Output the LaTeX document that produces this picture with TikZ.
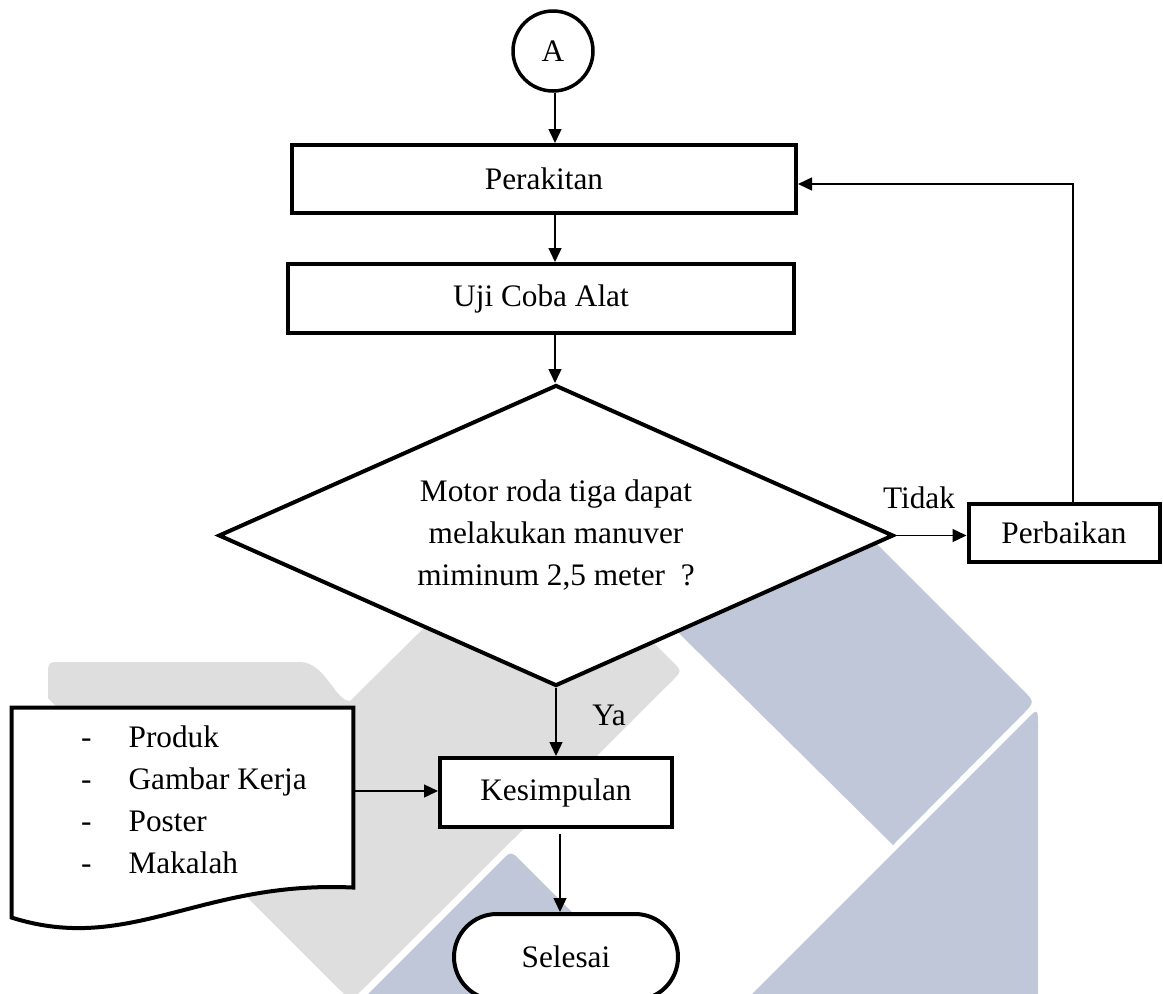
\documentclass[tikz,border=0pt]{standalone}
\usepackage{fontspec}
\setmainfont{Liberation Serif}
\usetikzlibrary{shapes.geometric,arrows.meta,calc}
\definecolor{wmgray}{RGB}{222,222,222}
\definecolor{wmblue}{RGB}{192,199,216}

\begin{document}
\begin{tikzpicture}[x=1pt,y=-1pt,
  every node/.style={font=\fontsize{31.3pt}{42pt}\selectfont},
  box/.style={draw,line width=4pt,fill=white,inner sep=0pt},
  conn/.style={line width=1.4pt,-{Triangle[length=14pt,width=13pt]}},
  lbl/.style={inner sep=0pt}]
\useasboundingbox (0,0) rectangle (1163,994);

% background emblem
\fill[wmgray] (48,698) -- (48,676) .. controls (48,662) .. (62,662) -- (300,662)
  .. controls (325,662) and (335,701) .. (350,701) -- (531,522) -- (672,661)
  .. controls (682,671) .. (672,681) -- (365,987) .. controls (351,1001) .. (337,987) -- cycle;
\fill[wmblue] (600,555) -- (872,539) -- (1022,689) .. controls (1035,702) .. (1022,715)
  -- (893,845) -- cycle;
\fill[wmblue] (746,1000) -- (1026,720) .. controls (1038,708) .. (1038,726) -- (1038,1000) -- cycle;
\fill[wmblue] (362,1000) -- (501,861) .. controls (511,851) .. (521,861) -- (660,1000) -- cycle;

% flowchart nodes
\node[draw,circle,line width=3.5pt,minimum size=80pt,inner sep=0pt,fill=white] (A) at (553,51) {A};
\node[box,minimum width=504pt,minimum height=68pt] (perakitan) at (544,179) {Perakitan};
\node[box,minimum width=506pt,minimum height=69pt] (uji) at (541,298.5) {Uji Coba Alat};
\node[box,diamond,aspect=2.24,minimum width=675pt,minimum height=301pt,align=center] (dec) at (556,535.5)
  {Motor roda tiga dapat\\melakukan manuver\\miminum 2,5 meter\ \ ?};
\node[box,minimum width=191pt,minimum height=58pt] (perbaikan) at (1064,532.5) {Perbaikan};
\node[box,minimum width=232pt,minimum height=69pt] (kes) at (556,792.5) {Kesimpulan};
\node[box,rounded corners=43pt,minimum width=224pt,minimum height=86pt] (selesai) at (566,957) {Selesai};

% document symbol with the list of outputs
\node[minimum width=341.5pt,minimum height=166.5pt,inner sep=0pt] (doc) at (182.5,791) {};
\draw[line width=4pt,fill=white] (doc.north west) -- (doc.north east)
  -- ($(doc.north east)+(0,180)$) .. controls (200,880) and (130,955) ..
  ($(doc.north west)+(0,210)$) -- cycle;
\node[anchor=west,inner sep=0pt] (doclist) at (81,802)
  {\begin{tabular}{@{}l@{\hspace{37pt}}l@{}}-&Produk\\-&Gambar Kerja\\-&Poster\\-&Makalah\end{tabular}};

% labels
\node[lbl] (tidak) at (919,498) {Tidak};
\node[lbl] (ya) at (609,715) {Ya};

% connectors
\coordinate (spine) at (555,0);
\draw[conn] (spine |- A.south) -- (spine |- perakitan.north);
\draw[conn] (spine |- perakitan.south) -- (spine |- uji.north);
\draw[conn] (spine |- uji.south) -- (spine |- dec.north);
\draw[conn] (dec.east) -- (dec.east -| perbaikan.west);
\draw[conn] ([xshift=9pt]perbaikan.north) |- ([yshift=-5pt]perakitan.east);
\draw[conn] (dec.south) -- (dec.south |- kes.north);
\draw[conn] (doc.east) -- (doc.east -| kes.west);
\coordinate (kesout) at ($(kes.south)+(4,5)$);
\draw[conn] (kesout) -- (kesout |- selesai.north);
\end{tikzpicture}
\end{document}
